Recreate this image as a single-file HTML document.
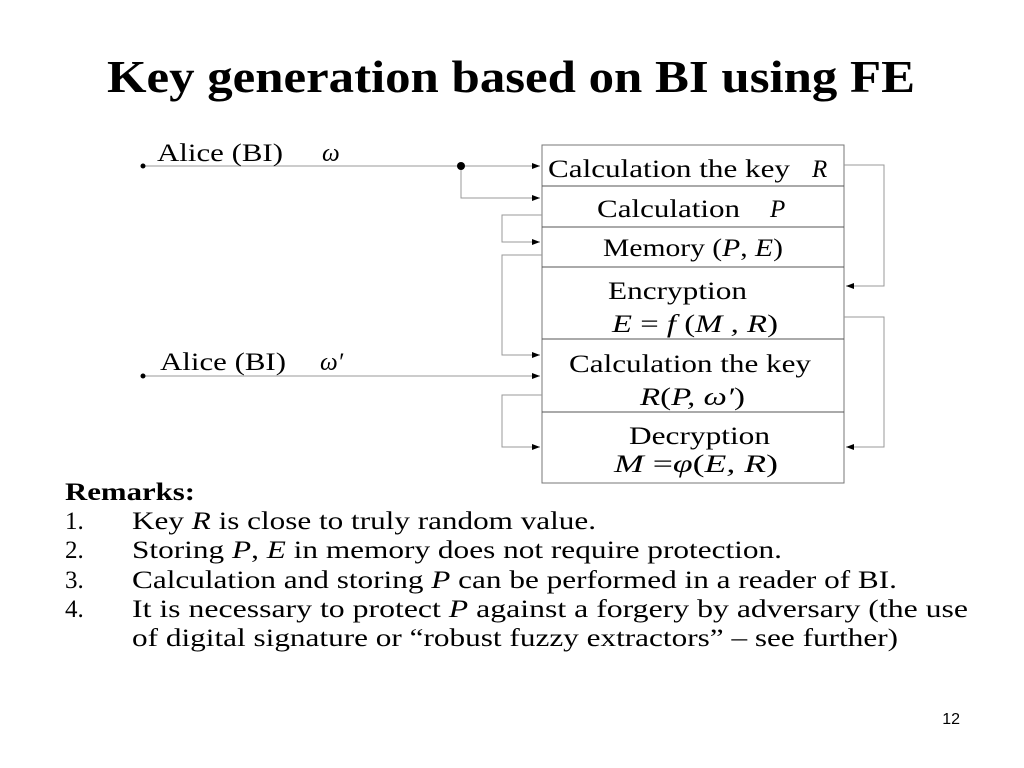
<!DOCTYPE html>
<html><head><meta charset="utf-8"><style>
body{margin:0;background:#fff}
svg{display:block}
text{font-family:"Liberation Serif",serif;fill:#000}
.i{font-style:italic}
</style></head><body>
<svg width="1024" height="768" viewBox="0 0 1024 768" xmlns="http://www.w3.org/2000/svg">
<defs><marker id="a" markerWidth="8" markerHeight="6" refX="8" refY="3" orient="auto" markerUnits="userSpaceOnUse"><path d="M0,0L8,3L0,6z" fill="#000"/></marker></defs>
<text x="107" y="92" font-size="46" font-weight="bold" textLength="808" lengthAdjust="spacingAndGlyphs">Key generation based on BI using FE</text>
<g fill="none" stroke="#999" stroke-width="1">
<rect x="542" y="145" width="302" height="338" stroke="#777"/>
<path d="M542 186H844M542 227H844M542 267H844M542 339H844M542 412H844" stroke="#555"/>
<path d="M143 166H540" marker-end="url(#a)"/>
<path d="M461 166V198H540" marker-end="url(#a)"/>
<path d="M542 215H502V242H540" marker-end="url(#a)"/>
<path d="M542 255H502V355H540" marker-end="url(#a)"/>
<path d="M143 376H540" marker-end="url(#a)"/>
<path d="M542 395H502V447H540" marker-end="url(#a)"/>
<path d="M844 165H884V286H846" marker-end="url(#a)"/>
<path d="M844 317H884V447H846" marker-end="url(#a)"/>
</g>
<circle cx="143" cy="166" r="2.5"/><circle cx="461" cy="166" r="4"/><circle cx="143" cy="376" r="2.5"/>
<g font-size="25">
<text x="157" y="161" textLength="126" lengthAdjust="spacingAndGlyphs">Alice (BI)</text>
<text x="322" y="161" class="i">ω</text>
<text x="160" y="370" textLength="126" lengthAdjust="spacingAndGlyphs">Alice (BI)</text>
<text x="320" y="370" class="i">ω′</text>
<text x="548" y="177" textLength="242" lengthAdjust="spacingAndGlyphs">Calculation the key</text><text x="812" y="177" class="i">R</text>
<text x="597" y="217" textLength="143" lengthAdjust="spacingAndGlyphs">Calculation</text><text x="770" y="217" class="i">P</text>
<text x="603" y="256" textLength="180" lengthAdjust="spacingAndGlyphs">Memory (<tspan class="i">P</tspan>, <tspan class="i">E</tspan>)</text>
<text x="608" y="299" textLength="139" lengthAdjust="spacingAndGlyphs">Encryption</text>
<text x="612" y="332" class="i" textLength="166" lengthAdjust="spacingAndGlyphs">E <tspan font-style="normal">=</tspan> f <tspan font-style="normal">(</tspan>M , R<tspan font-style="normal">)</tspan></text>
<text x="569" y="372" textLength="242" lengthAdjust="spacingAndGlyphs">Calculation the key</text>
<text x="640" y="405" class="i" textLength="105" lengthAdjust="spacingAndGlyphs">R<tspan font-style="normal">(</tspan>P, ω′<tspan font-style="normal">)</tspan></text>
<text x="629" y="444" textLength="141" lengthAdjust="spacingAndGlyphs">Decryption</text>
<text x="614" y="472" class="i" textLength="164" lengthAdjust="spacingAndGlyphs">M <tspan font-style="normal">=</tspan>φ<tspan font-style="normal">(</tspan>E, R<tspan font-style="normal">)</tspan></text>
</g>
<g font-size="25">
<text x="65" y="500" font-weight="bold" textLength="130" lengthAdjust="spacingAndGlyphs">Remarks:</text>
<text x="65" y="529">1.</text><text x="132" y="529" textLength="464" lengthAdjust="spacingAndGlyphs">Key <tspan class="i">R</tspan> is close to truly random value.</text>
<text x="65" y="558">2.</text><text x="132" y="558" textLength="650" lengthAdjust="spacingAndGlyphs">Storing <tspan class="i">P</tspan>, <tspan class="i">E</tspan> in memory does not require protection.</text>
<text x="65" y="588">3.</text><text x="132" y="588" textLength="765" lengthAdjust="spacingAndGlyphs">Calculation and storing <tspan class="i">P</tspan> can be performed in a reader of BI.</text>
<text x="65" y="617">4.</text><text x="132" y="617" textLength="836" lengthAdjust="spacingAndGlyphs">It is necessary to protect <tspan class="i">P</tspan> against a forgery by adversary (the use</text>
<text x="132" y="646" textLength="766" lengthAdjust="spacingAndGlyphs">of digital signature or “robust fuzzy extractors” – see further)</text>
</g>
<text x="960" y="724" font-size="16" text-anchor="end" style="font-family:'Liberation Sans',sans-serif">12</text>
</svg>
</body></html>
